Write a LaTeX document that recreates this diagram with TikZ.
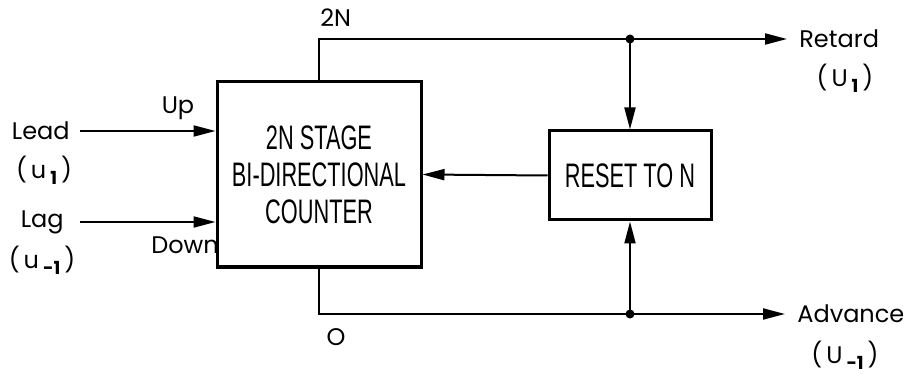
\documentclass[tikz,border=0pt]{standalone}
\usepackage{fontspec}
\setmainfont{Poppins}
\newfontfamily\boxfont[FakeStretch=0.64]{Liberation Sans}
\usetikzlibrary{arrows.meta,positioning}
\newcommand{\idx}[1]{\raisebox{-0.45ex}{\fontsize{9}{9}\selectfont\bfseries #1}}

\begin{document}
\begin{tikzpicture}[x=0.5pt,y=-0.5pt,
blk/.style={draw,line width=1.5pt,align=center,font=\boxfont\fontsize{17}{18.5}\selectfont},
lbl/.style={inner sep=1pt,align=center,font=\fontsize{12}{14}\selectfont},
arr/.style={-{Triangle[length=11pt,width=5.5pt]},line width=1pt},
jdot/.style={circle,fill,inner sep=0pt,minimum size=4.5pt}]
\useasboundingbox (0,0) rectangle (906,374);
\node[blk,minimum width=102pt,minimum height=92.5pt] (counter) at (319,174.5) {2N STAGE\\BI-DIRECTIONAL\\COUNTER};
\node[blk,minimum width=81pt,minimum height=44.5pt] (reset) at (630,175.5) {RESET TO N};
\node[lbl,anchor=west] (retard) at (797,39) {Retard};
\node[lbl] (retsub) at (845,78) {(\,U\,\idx{1}\,)};
\node[lbl,anchor=west] (advance) at (795,314) {Advance};
\node[lbl] (advsub) at (845,355) {(\,U\,\idx{-1}\,)};
\node[lbl,anchor=east] (lead) at (72,131) {Lead};
\node[lbl] (leadsub) at (44,170) {(\,u\,\idx{1}\,)};
\node[lbl,anchor=east] (lag) at (66,222) {Lag};
\node[lbl] (lagsub) at (42,260) {(\,u\,\idx{-1}\,)};
\node[lbl] (up) at (178,108) {Up};
\node[lbl] (down) at (185,245) {Down};
\node[lbl,anchor=west] (twon) at (318,18) {2N};
\node[lbl] (zero) at (336,337) {O};
\coordinate (jtop) at (reset.north |- retard.west);
\coordinate (jbot) at (reset.south |- advance.west);
% inputs
\draw[arr] ([xshift=4pt]lead.east) -- (counter.west |- lead.east);
\draw[arr] ([xshift=7pt]lag.east) -- (counter.west |- lag.east);
% outputs and reset
\draw[arr,shorten >=5pt] (counter.north) |- (retard.west);
\draw[arr,shorten >=5pt] (counter.south) |- (advance.west);
\draw[arr] (jtop) -- (reset.north);
\draw[arr] (jbot) -- (reset.south);
\draw[arr] (reset.west) -- (counter.east);
\node[jdot] at (jtop) {};
\node[jdot] at (jbot) {};
\end{tikzpicture}
\end{document}
